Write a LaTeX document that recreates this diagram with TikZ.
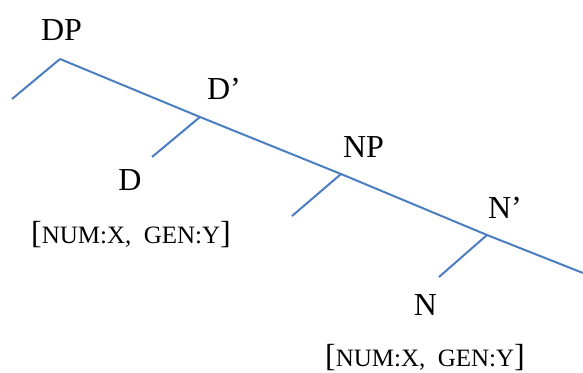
\documentclass[tikz,border=0pt]{standalone}
\usepackage{fontspec}
\setmainfont{Liberation Serif}
\usetikzlibrary{positioning}

\definecolor{treeblue}{RGB}{74,126,193}
\newcommand{\featsize}{\fontsize{25}{30}\selectfont}

\begin{document}
\begin{tikzpicture}[
  x=1pt, y=-1pt,
  font=\fontsize{32}{38}\selectfont,
  branch/.style={draw=treeblue, line width=2pt},
  cat/.style={anchor=base, inner sep=0pt},
  feat/.style={anchor=base, inner sep=0pt}
]
\useasboundingbox (0,0) rectangle (583,372);

% junctions on the spine
\coordinate (dp) at (60,59);
\coordinate (dbar) at (200,117);
\coordinate (np) at (341,174);
\coordinate (nbar) at (487,235);
\coordinate (tail) at (583,273);

% ends of the left branches
\coordinate (spec) at (12,99);
\coordinate (dhead) at (152,157);
\coordinate (npspec) at (292,216);
\coordinate (nhead) at (439,277);

% labels
\node[cat] (dplab) at (61.5,40) {DP};
\node[cat] (dbarlab) at (224,99) {D’};
\node[cat] (nplab) at (363.5,157) {NP};
\node[cat] (nbarlab) at (505,218) {N’};
\node[cat] (dlab) at (130,190) {D};
\node[cat] (nlab) at (425.5,315) {N};
\node[feat] (dfeat) at (131,243) {[{\featsize NUM:X,\ \ GEN:Y}]};
\node[feat] (nfeat) at (425,366) {[{\featsize NUM:X,\ \ GEN:Y}]};

% branches
\draw[branch] (dp) -- (dbar) -- (np) -- (nbar) -- (tail);
\draw[branch] (dp) -- (spec);
\draw[branch] (dbar) -- (dhead);
\draw[branch] (np) -- (npspec);
\draw[branch] (nbar) -- (nhead);

\end{tikzpicture}
\end{document}
